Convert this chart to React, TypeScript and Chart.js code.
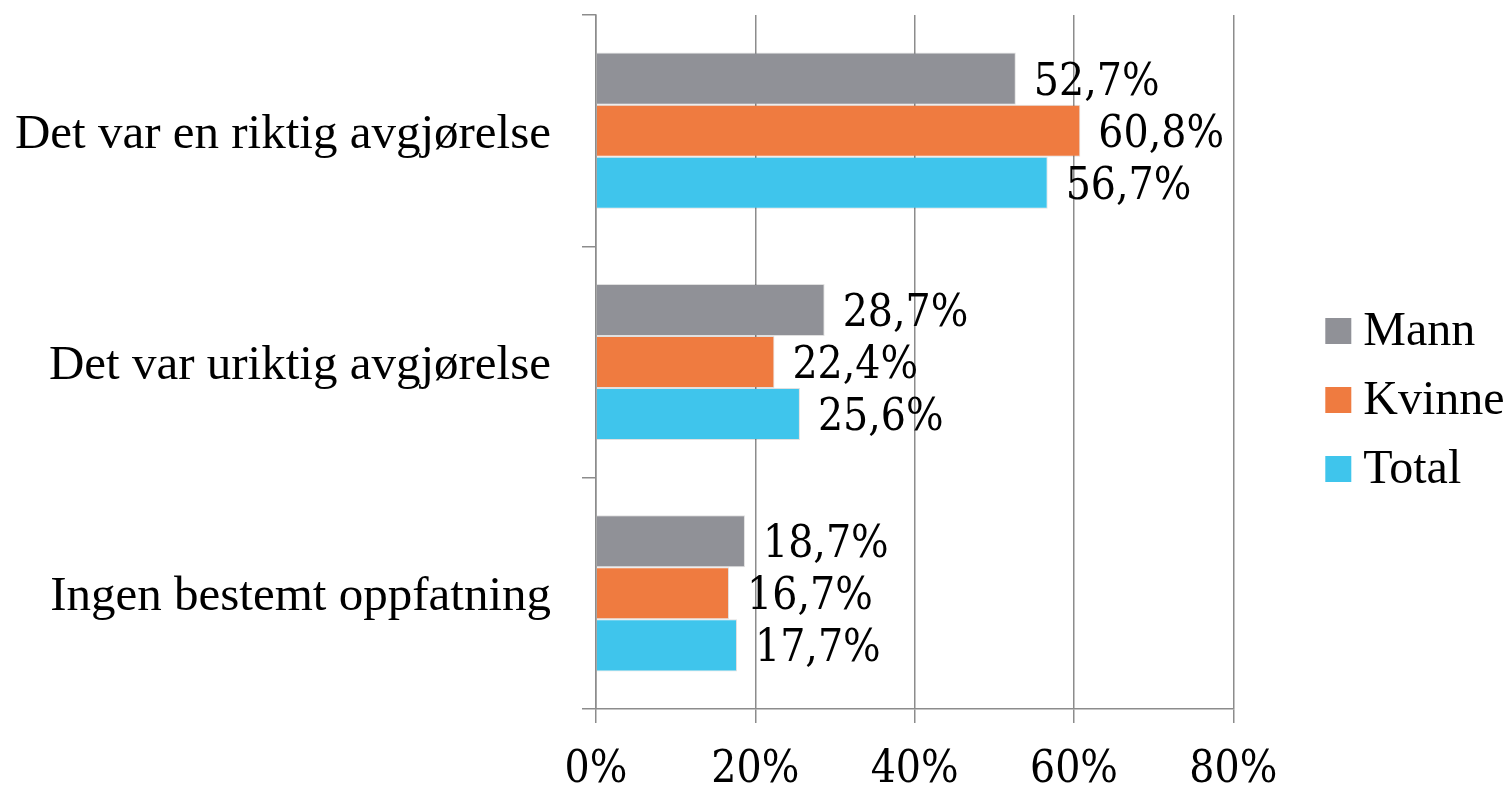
import React, { useEffect, useRef } from "react";
import { Chart, registerables } from "chart.js";

Chart.register(...registerables);

const categories = [
  "Det var en riktig avgjørelse",
  "Det var uriktig avgjørelse",
  "Ingen bestemt oppfatning",
];
const seriesNames = ["Mann", "Kvinne", "Total"];
const mannValues = [52.7, 28.7, 18.7];
const kvinneValues = [60.8, 22.4, 16.7];
const totalValues = [56.7, 25.6, 17.7];
const xTickValues = [0, 20, 40, 60, 80];
const seriesColors = ["#909197", "#ef7b40", "#3fc5ec"];

const W = 1512;
const H = 785;
const serifFamily = "'Liberation Serif', 'Times New Roman', serif";
const numFamily = "'DejaVu Serif Condensed', 'DejaVu Serif', serif";
const gridColor = "#8c8c8c";

const dataLabelPlugin = {
  id: "dataLabels",
  afterDatasetsDraw(chart: any) {
    const ctx = chart.ctx;
    ctx.save();
    ctx.font = `44px ${numFamily}`;
    ctx.fillStyle = "#000";
    ctx.textAlign = "left";
    ctx.textBaseline = "alphabetic";
    chart.data.datasets.forEach((ds: any, i: number) => {
      const meta = chart.getDatasetMeta(i);
      meta.data.forEach((bar: any, j: number) => {
        const v = ds.data[j] as number;
        const txt = v.toFixed(1).replace(".", ",") + "%";
        ctx.fillText(txt, bar.x + 18, bar.y + 16);
      });
    });
    ctx.restore();
  },
};

const legendPlugin = {
  id: "customLegend",
  afterDraw(chart: any) {
    const ctx = chart.ctx;
    const area = chart.chartArea;
    ctx.save();
    ctx.font = `48px ${serifFamily}`;
    ctx.textAlign = "left";
    ctx.textBaseline = "alphabetic";
    chart.data.datasets.forEach((ds: any, i: number) => {
      const top = area.top + 303 + i * 69;
      const x = area.right + 92;
      ctx.fillStyle = ds.backgroundColor;
      ctx.fillRect(x, top, 26, 26);
      ctx.fillStyle = "#000";
      ctx.fillText(ds.label, x + 38, top + 27);
    });
    ctx.restore();
  },
};

export default function App() {
  const canvasRef = useRef<HTMLCanvasElement | null>(null);

  useEffect(() => {
    document.body.style.margin = "0";
    const canvas = canvasRef.current;
    if (!canvas) return;
    const valueSets = [mannValues, kvinneValues, totalValues];
    const chart = new Chart(canvas, {
      type: "bar",
      data: {
        labels: categories,
        datasets: seriesNames.map((name, i) => ({
          label: name,
          data: valueSets[i],
          backgroundColor: seriesColors[i],
          borderColor: "rgba(0,0,0,0.12)",
          borderWidth: 1,
          categoryPercentage: 0.675,
          barPercentage: 1.0,
        })),
      },
      options: {
        indexAxis: "y",
        responsive: false,
        animation: false,
        layout: {
          padding: { top: 15, right: W - 1233.3, left: 0, bottom: 0 },
        },
        plugins: {
          legend: { display: false },
          tooltip: { enabled: false },
          title: { display: false },
        },
        scales: {
          x: {
            type: "linear",
            position: "bottom",
            min: 0,
            max: 80,
            afterBuildTicks: (scale: any) => {
              scale.ticks = xTickValues.map((v) => ({ value: v }));
            },
            afterFit: (scale: any) => {
              scale.height = H - 709;
              scale.paddingLeft = 0;
              scale.paddingRight = 0;
            },
            ticks: {
              stepSize: 20,
              padding: 21,
              color: "#000",
              font: { family: numFamily, size: 44 },
              callback: (v: any) => `${v}%`,
            },
            grid: {
              color: gridColor,
              lineWidth: 1.5,
              drawTicks: true,
              tickLength: 14,
            },
            border: { display: true, color: gridColor, width: 1.5 },
          },
          y: {
            type: "category",
            position: "left",
            afterFit: (scale: any) => {
              scale.width = 596;
              scale.paddingTop = 0;
              scale.paddingBottom = 0;
            },
            ticks: {
              padding: 31,
              labelOffset: 4,
              color: "#000",
              font: { family: serifFamily, size: 49 },
            },
            grid: {
              offset: true,
              drawOnChartArea: false,
              drawTicks: true,
              tickLength: 14,
              color: gridColor,
              lineWidth: 1.5,
            },
            border: { display: true, color: gridColor, width: 1.5 },
          },
        },
      },
      plugins: [dataLabelPlugin, legendPlugin],
    } as any);
    return () => chart.destroy();
  }, []);

  return (
    <div style={{ width: W, height: H, overflow: "hidden", background: "#fff" }}>
      <canvas
        ref={canvasRef}
        width={W}
        height={H}
        style={{ display: "block", width: W, height: H }}
      />
    </div>
  );
}
